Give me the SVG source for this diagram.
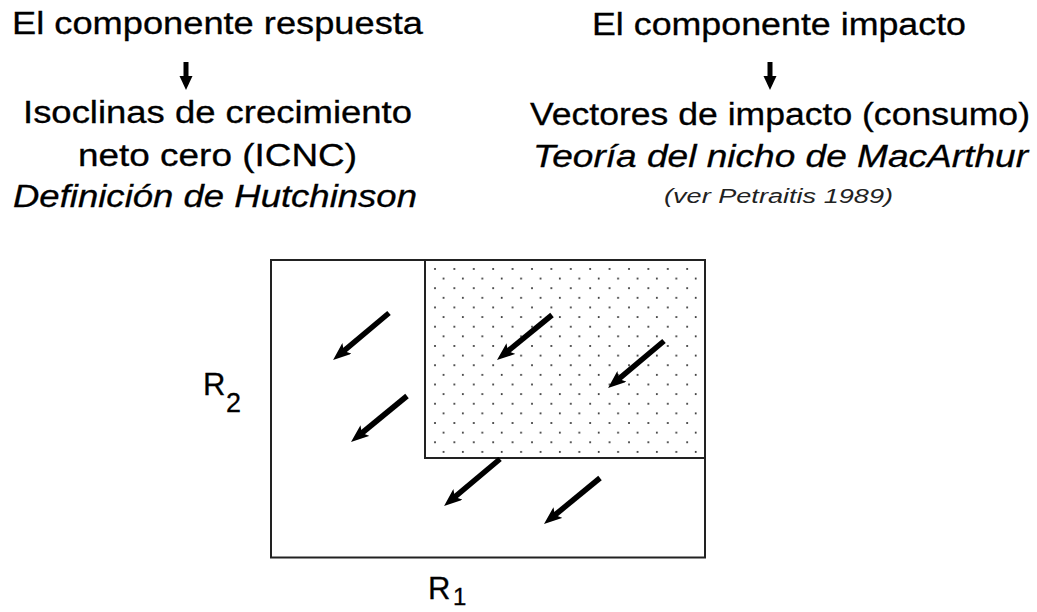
<svg xmlns="http://www.w3.org/2000/svg" width="1037" height="612" viewBox="0 0 1037 612">
<style>
.t{font-family:"Liberation Sans",Arial,sans-serif;font-size:31px;fill:#000;stroke:#000;stroke-width:0.3}
.i{font-style:italic}
.s{font-size:20px;fill:#222;stroke:none}
.frame{fill:none;stroke:#222;stroke-width:2}
.vec{stroke:#000;stroke-width:5.5;fill:none;marker-end:url(#ah)}
.dn{stroke:#000;stroke-width:5}
</style>
<defs>
<marker id="ah" viewBox="0 0 18 14" refX="7" refY="7" markerWidth="18" markerHeight="14" markerUnits="userSpaceOnUse" orient="auto">
<path d="M0,0 L18,7 L0,14 L4,7 z" fill="#000"/>
</marker>
<pattern id="dots" patternUnits="userSpaceOnUse" x="433" y="267" width="19.4" height="19.26">
<circle cx="2" cy="2" r="1" fill="#222"/>
<circle cx="10.5" cy="11.63" r="1" fill="#222"/>
</pattern>
</defs>
<rect width="1037" height="612" fill="#fff"/>

<g id="respuesta">
<text class="t" x="12" y="34" textLength="411" lengthAdjust="spacingAndGlyphs">El componente respuesta</text>
</g>
<g id="icnc">
<text class="t" x="23" y="123" textLength="389" lengthAdjust="spacingAndGlyphs">Isoclinas de crecimiento</text>
<text class="t" x="78" y="166" textLength="279" lengthAdjust="spacingAndGlyphs">neto cero (ICNC)</text>
<text class="t i" x="13" y="207" textLength="404" lengthAdjust="spacingAndGlyphs">Definición de Hutchinson</text>
</g>
<g id="impacto">
<text class="t" x="592" y="35" textLength="374" lengthAdjust="spacingAndGlyphs">El componente impacto</text>
</g>
<g id="vectores">
<text class="t" x="530" y="125" textLength="500" lengthAdjust="spacingAndGlyphs">Vectores de impacto (consumo)</text>
<text class="t i" x="533" y="167" textLength="495" lengthAdjust="spacingAndGlyphs">Teoría del nicho de MacArthur</text>
<text class="t i s" x="664" y="203" textLength="229" lengthAdjust="spacingAndGlyphs">(ver Petraitis 1989)</text>
</g>

<g id="connectors">
<line class="dn" x1="186" y1="62" x2="186" y2="79"/>
<polygon points="179.5,76 192.5,76 186,90" fill="#000"/>
<line class="dn" x1="770" y1="62" x2="770" y2="79"/>
<polygon points="763.5,76 776.5,76 770,90" fill="#000"/>
</g>

<g id="plot">
<rect x="425" y="260" width="280" height="198" fill="url(#dots)"/>
<rect class="frame" x="271" y="260" width="434" height="297.5"/>
<polyline class="frame" points="425,260 425,458 705,458"/>
</g>

<g id="vectors">
<line class="vec" x1="389" y1="313" x2="341.5" y2="352.9"/>
<line class="vec" x1="407" y1="396" x2="359.5" y2="435"/>
<line class="vec" x1="552" y1="315" x2="505.5" y2="353"/>
<line class="vec" x1="664" y1="341" x2="616.5" y2="380.9"/>
<line class="vec" x1="500" y1="459" x2="452.5" y2="498.9"/>
<line class="vec" x1="600" y1="478" x2="552.5" y2="517"/>
</g>

<g id="label-r2">
<text class="t" x="203" y="395">R<tspan x="226" y="412" font-size="27">2</tspan></text>
</g>
<g id="label-r1">
<text class="t" x="428" y="599">R<tspan x="453" y="605" font-size="24">1</tspan></text>
</g>
</svg>
